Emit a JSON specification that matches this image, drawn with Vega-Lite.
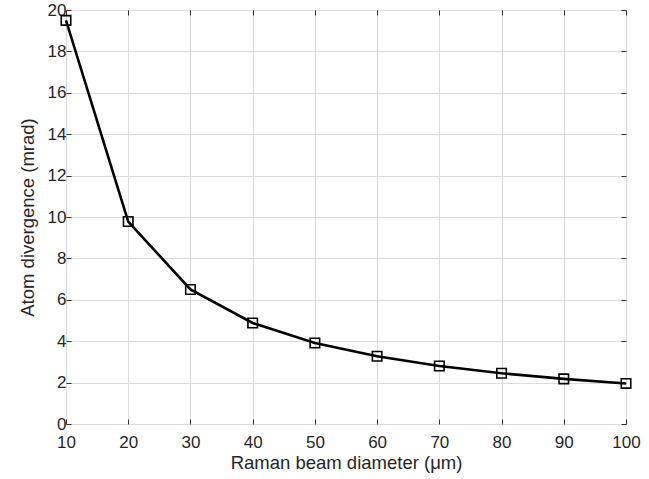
{
  "$schema": "https://vega.github.io/schema/vega-lite/v6.json",
  "width": 560,
  "height": 414,
  "autosize": "none",
  "padding": {"left": 66, "top": 10, "right": 23, "bottom": 55},
  "background": "white",
  "config": {
    "font": "Liberation Sans",
    "view": {"stroke": "#333333", "strokeWidth": 1},
    "axis": {
      "labelFont": "Liberation Sans",
      "titleFont": "Liberation Sans",
      "labelFontSize": 17,
      "titleFontSize": 18.5,
      "labelColor": "#262626",
      "titleColor": "#262626",
      "titleFontWeight": "normal",
      "domain": false,
      "gridColor": "#dcdcdc",
      "gridWidth": 1,
      "tickColor": "#333333",
      "tickSize": -5,
      "labelFlush": false,
      "labelOverlap": false
    }
  },
  "data": {"values": [
    {"d": 10, "div": 19.5},
    {"d": 20, "div": 9.78},
    {"d": 30, "div": 6.5},
    {"d": 40, "div": 4.88},
    {"d": 50, "div": 3.91},
    {"d": 60, "div": 3.27},
    {"d": 70, "div": 2.8},
    {"d": 80, "div": 2.45},
    {"d": 90, "div": 2.18},
    {"d": 100, "div": 1.96}
  ]},
  "layer": [
    {
      "mark": {"type": "line", "color": "black", "strokeWidth": 2.6},
      "encoding": {
        "x": {"field": "d", "type": "quantitative", "scale": {"domain": [10, 100], "nice": false},
              "axis": {"values": [10,20,30,40,50,60,70,80,90,100], "title": "Raman beam diameter (μm)", "labelPadding": 15, "titlePadding": 3}},
        "y": {"field": "div", "type": "quantitative", "scale": {"domain": [0, 20], "nice": false},
              "axis": {"values": [0,2,4,6,8,10,12,14,16,18,20], "title": "Atom divergence (mrad)", "labelPadding": 5, "titlePadding": 10}}
      }
    },
    {
      "mark": {"type": "point", "shape": "square", "filled": false, "color": "black", "size": 90, "strokeWidth": 1.6, "opacity": 1},
      "encoding": {
        "x": {"field": "d", "type": "quantitative", "axis": {"orient": "top", "values": [10,20,30,40,50,60,70,80,90,100], "labels": false, "grid": false, "title": null}},
        "y": {"field": "div", "type": "quantitative", "axis": {"orient": "right", "values": [0,2,4,6,8,10,12,14,16,18,20], "labels": false, "grid": false, "title": null}}
      }
    }
  ],
  "resolve": {"axis": {"x": "independent", "y": "independent"}}
}
